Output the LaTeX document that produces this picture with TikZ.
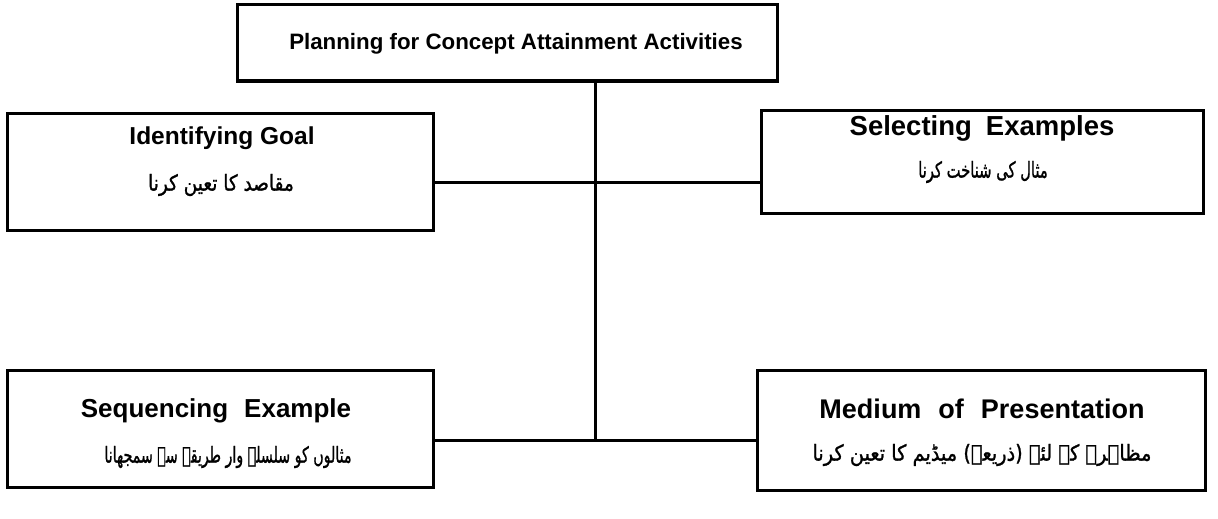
\documentclass[tikz,border=0pt]{standalone}
\usepackage{fontspec}
\setmainfont{Liberation Sans}
\newfontfamily\urdu[Script=Arabic, FakeBold=1.2]{DejaVu Sans}
\TeXXeTstate=1
\newcommand\enfont[1]{\fontsize{#1}{#1}\selectfont\bfseries}
\begin{document}
\begin{tikzpicture}[x=1pt,y=-1pt,
  box/.style={draw, line width=3pt, inner sep=0pt},
  en/.style={inner sep=0pt},
  ur/.style={font=\fontsize{22}{26}\urdu, inner sep=0pt},
  link/.style={line width=3pt}]
\useasboundingbox (0,0) rectangle (1218,519);

% frames
\node[box, minimum width=540pt, minimum height=76pt]  (top) at (507,43)    {};
\node[box, minimum width=426pt, minimum height=117pt] (ul)  at (220,171.5) {};
\node[box, minimum width=442pt, minimum height=103pt] (ur)  at (982,161.5) {};
\node[box, minimum width=426pt, minimum height=117pt] (ll)  at (220,428.5) {};
\node[box, minimum width=448pt, minimum height=120pt] (lr)  at (981,430)   {};

% labels
\node[en, font=\enfont{22.3}] (topT) at (516,44)  {Planning for Concept Attainment Activities};
\node[en, font=\enfont{24.5}] (ulT)  at (222,138) {Identifying Goal};
\node[ur] (ulU)  at (221,185) {\scalebox{0.84}[1]{\beginR مقاصد کا تعین کرنا\endR}};
\node[en, font=\enfont{27.5}] (urT)  at (982,128) {Selecting\hspace{14pt}Examples};
\node[ur] (urU)  at (983,172) {\scalebox{0.67}[1]{\beginR مثال کی شناخت کرنا\endR}};
\node[en, font=\enfont{26}] (llT)  at (216,411) {Sequencing\hspace{16pt}Example};
\node[ur] (llU)  at (228,457) {\scalebox{0.645}[1]{\beginR مثالوں کو سلسلے وار طریقے سے سمجھانا\endR}};
\node[en, font=\enfont{27}] (lrT)  at (982,409) {Medium\hspace{17pt}of\hspace{17pt}Presentation};
\node[ur] (lrU)  at (982,455) {\scalebox{0.88}[1]{\beginR مظاہرہ کے لئے (ذریعہ) میڈیم کا تعین کرنا\endR}};

% junctions on the trunk
\coordinate (j1) at (595,182);
\coordinate (j2) at (595,440);

% connectors
\draw[link] (top.south -| j1) -- (j2);
\draw[link] (ul.east |- j1) -- (ur.west |- j1);
\draw[link] (ll.east |- j2) -- (lr.west |- j2);
\end{tikzpicture}
\end{document}
